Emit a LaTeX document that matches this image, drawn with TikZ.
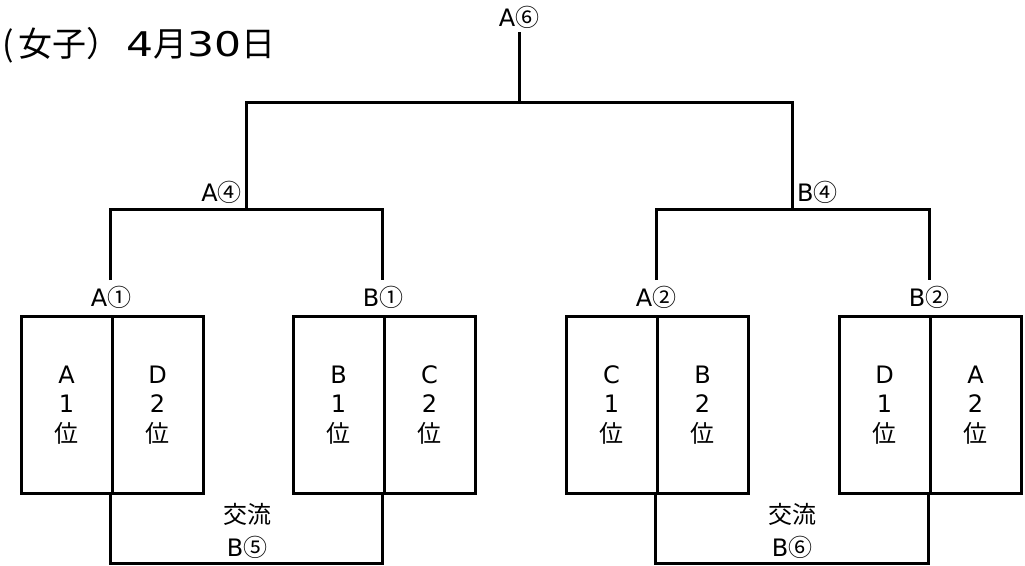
\documentclass[tikz,border=0pt]{standalone}
\usepackage{fontspec}
\setmainfont{DejaVu Sans}
\newfontfamily\jpf{Noto Sans CJK JP}
\newfontfamily\widelat[FakeStretch=1.25]{DejaVu Sans}
\newcommand\jp[1]{{\jpf #1}}
\begin{document}
\begin{tikzpicture}[x=1pt,y=-1pt,
  wire/.style={line width=3pt,line join=miter},
  lab/.style={inner sep=0pt,font=\fontsize{24}{24}\selectfont},
  col/.style={draw,line width=3pt,minimum width=91pt,minimum height=177pt,inner sep=0pt,
    align=center,font=\fontsize{24}{29.5}\selectfont,anchor=north west}]
\useasboundingbox (0,0) rectangle (1025,565);
% title
\node[inner sep=0pt,anchor=west,font=\fontsize{34}{34}\selectfont] (title) at (2,45) {\jp{(\kern5pt 女子）}\kern6pt{\widelat 4}\jp{月}{\widelat 30}\jp{日}};
% labels
\node[lab] (a6) at (519,17) {A\jp{⑥}};
\node[lab,anchor=east] (a4) at (242,192) {A\jp{④}};
\node[lab,anchor=west] (b4) at (797,192) {B\jp{④}};
\node[lab] (a1) at (111,297) {A\jp{①}};
\node[lab] (b1) at (383,297) {B\jp{①}};
\node[lab] (a2) at (656,297) {A\jp{②}};
\node[lab] (b2) at (929,297) {B\jp{②}};
% tree coordinates
\coordinate (r0) at (519,32);
\coordinate (r1) at (519,102);
\coordinate (l1) at (246,102);
\coordinate (q1) at (792,102);
\coordinate (l2) at (246,209);
\coordinate (q2) at (792,209);
\coordinate (la) at (110,209);
\coordinate (lb) at (382,209);
\coordinate (ra) at (656,209);
\coordinate (rb) at (929,209);
\coordinate (la2) at (110,280);
\coordinate (lb2) at (382,280);
\coordinate (ra2) at (656,280);
\coordinate (rb2) at (929,280);
\draw[wire] (r0) -- (r1);
\draw[wire] (l2) -- (l1) -- (q1) -- (q2);
\draw[wire] (la2) -- (la) -- (lb) -- (lb2);
\draw[wire] (ra2) -- (ra) -- (rb) -- (rb2);
\draw[wire] (l2) -- (la);
\draw[wire] (q2) -- (ra);
% boxes
\node[col] (c1) at (19.5,315) {A\\1\\\jp{位}};
\node[col] (c2) at (110.5,315) {D\\2\\\jp{位}};
\node[col] (c3) at (291.5,315) {B\\1\\\jp{位}};
\node[col] (c4) at (382.5,315) {C\\2\\\jp{位}};
\node[col] (c5) at (564.5,315) {C\\1\\\jp{位}};
\node[col] (c6) at (655.5,315) {B\\2\\\jp{位}};
\node[col] (c7) at (837.5,315) {D\\1\\\jp{位}};
\node[col] (c8) at (928.5,315) {A\\2\\\jp{位}};
% exchange brackets
\coordinate (e1) at (110.5,563);
\coordinate (e2) at (382.5,563);
\coordinate (e3) at (655.5,563);
\coordinate (e4) at (928.5,563);
\draw[wire] (c2.south west) -- (e1) -- (e2) -- (c4.south west);
\draw[wire] (c6.south west) -- (e3) -- (e4) -- (c8.south west);
\node[lab] (x1) at (247,514) {\jp{交流}};
\node[lab] (x1b) at (247,547) {B\jp{⑤}};
\node[lab] (x2) at (792,514) {\jp{交流}};
\node[lab] (x2b) at (792,547) {B\jp{⑥}};
\end{tikzpicture}
\end{document}
